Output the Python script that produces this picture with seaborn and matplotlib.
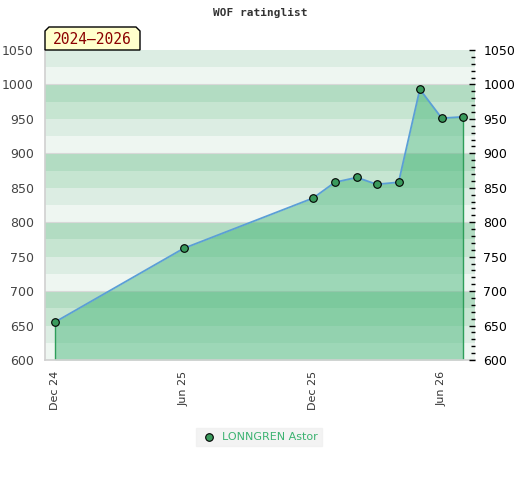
import matplotlib
matplotlib.use("Agg")
import matplotlib.pyplot as plt
from matplotlib.patches import Polygon
from matplotlib.ticker import MultipleLocator
import pandas as pd
import seaborn as sns

# data
dates = ['2024-12-01', '2025-06-01', '2025-12-01', '2026-01-01', '2026-02-01',
         '2026-03-01', '2026-04-01', '2026-05-01', '2026-06-01', '2026-07-01']
ratings = [655, 762, 835, 858, 865, 855, 858, 993, 951, 953]
player = 'LONNGREN Astor'
period = '2024\u20132026'
tick_dates = ['2024-12-01', '2025-06-01', '2025-12-01', '2026-06-01']
tick_labels = ['Dec 24', 'Jun 25', 'Dec 25', 'Jun 26']

df = pd.DataFrame({'date': pd.to_datetime(dates), 'rating': ratings})

sns.set_style("white")
plt.rcParams['font.family'] = ['DejaVu Sans']

W, H = 520, 480
fig = plt.figure(figsize=(5.2, 4.8), dpi=100)
ax = fig.add_axes([45 / W, 1 - 360 / H, 430 / W, 310 / H])

# background bands, 4 colours repeating every 100 points
band_cols = ['#eef6f1', '#dcede3', '#c6e5d1', '#b2dcc2']
for lo in range(600, 1050, 25):
    ax.axhspan(lo, lo + 25, color=band_cols[(lo // 25) % 4], lw=0, zorder=0)
for y in range(600, 1051, 100):
    ax.axhline(y, color='#d8d8d8', lw=0.8, zorder=0.5)

# area under the curve
ax.fill_between(df['date'], df['rating'], 600, color='#3cb371', alpha=0.45, lw=0, zorder=1)
ax.vlines([df['date'].iloc[0], df['date'].iloc[-1]], 600,
          [df['rating'].iloc[0], df['rating'].iloc[-1]], color='#2e9e5a', lw=1, zorder=2)

sns.lineplot(data=df, x='date', y='rating', color='#5b9fd6', lw=1.3, ax=ax, zorder=3)
sns.scatterplot(data=df, x='date', y='rating', color='#3a9a5c', edgecolor='black',
                s=30, linewidth=0.8, ax=ax, zorder=4, label=player)

start = pd.Timestamp('2024-12-01')
ax.set_xlim(start - pd.Timedelta(days=14), start + pd.Timedelta(days=594))
ax.set_ylim(600, 1050)
ax.set_xlabel('')
ax.set_ylabel('')

ax.set_xticks(pd.to_datetime(tick_dates))
ax.set_xticklabels(tick_labels, rotation=90, fontsize=8, color='#333333')
ax.tick_params(axis='x', length=0, pad=8)
ax.yaxis.set_major_locator(MultipleLocator(50))
ax.tick_params(axis='y', labelsize=9, colors='#444444', length=0, pad=8)

for s in ['top', 'right']:
    ax.spines[s].set_visible(False)
for s in ['left', 'bottom']:
    ax.spines[s].set_color('#d0d0d0')
    ax.spines[s].set_linewidth(1.2)

# right axis with minor ticks
ax2 = ax.twinx()
ax2.set_ylim(600, 1050)
ax2.yaxis.set_major_locator(MultipleLocator(50))
ax2.yaxis.set_minor_locator(MultipleLocator(10))
ax2.tick_params(axis='y', which='major', direction='in', length=4, width=1,
                labelsize=9, colors='black', pad=6)
ax2.tick_params(axis='y', which='minor', direction='in', length=3, width=1, colors='black')
for s in ax2.spines.values():
    s.set_visible(False)

fig.text(0.5, 1 - 13 / H, 'WOF ratinglist', ha='center', va='center',
         fontsize=8, fontweight='bold', family='DejaVu Sans Mono', color='#333333')

# period tab with cut top corners
tab = [(45, 50), (45, 31), (49, 27), (136, 27), (140, 31), (140, 50)]
fig.patches.append(Polygon([(x / W, 1 - y / H) for x, y in tab], closed=True,
                           transform=fig.transFigure, fc='#ffffcc', ec='black', lw=1))
fig.text(92.5 / W, 1 - 39 / H, period, ha='center', va='center', fontsize=10.5,
         family='DejaVu Sans Mono', color='#8b0000')

leg = ax.legend(loc='center', frameon=True, fontsize=8, handletextpad=0.4,
                borderpad=0.4, handlelength=1.6)
leg.set_bbox_to_anchor((0.5 - 1 / 430, -(437 - 360) / 310), transform=ax.transAxes)
leg.get_frame().set_facecolor('#f0f0f0')
leg.get_frame().set_edgecolor('#f0f0f0')
leg.get_frame().set_boxstyle('square', pad=0)
for t in leg.get_texts():
    t.set_color('#3cb371')

fig.savefig('out.png', dpi=100)
